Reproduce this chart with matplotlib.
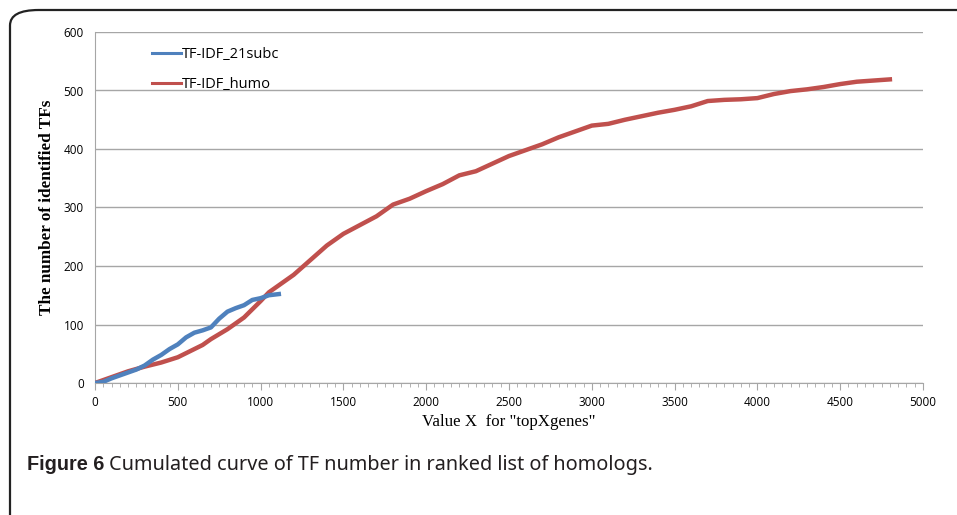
import matplotlib.pyplot as plt
from matplotlib.patches import FancyBboxPatch
from matplotlib.lines import Line2D
from matplotlib.ticker import MultipleLocator

# TF-IDF_21subc (blue)
subc_x = [0, 50, 100, 150, 200, 250, 300, 350, 400, 450, 500, 550, 600, 650, 700,
          750, 800, 850, 900, 950, 1000, 1050, 1110]
subc_y = [0, 2, 8, 13, 18, 23, 30, 40, 48, 58, 66, 78, 86, 90, 95,
          110, 122, 128, 133, 142, 145, 150, 152]

# TF-IDF_humo (red)
humo_x = [0, 100, 200, 300, 400, 500, 600, 650, 700, 800, 900, 1000, 1050, 1100,
          1200, 1300, 1400, 1500, 1600, 1700, 1800, 1900, 2000, 2100, 2200, 2300,
          2400, 2500, 2600, 2700, 2800, 2900, 3000, 3100, 3200, 3300, 3400, 3500,
          3600, 3700, 3800, 3900, 4000, 4100, 4200, 4300, 4400, 4500, 4600, 4700, 4800]
humo_y = [0, 10, 20, 28, 35, 44, 58, 65, 75, 92, 112, 140, 155, 165,
          185, 210, 235, 255, 270, 285, 305, 315, 328, 340, 355, 362,
          375, 388, 398, 408, 420, 430, 440, 443, 450, 456, 462, 467,
          473, 482, 484, 485, 487, 494, 499, 502, 506, 511, 515, 517, 519]

blue = '#4F81BD'
red = '#C0504D'

fig = plt.figure(figsize=(9.57, 5.15), dpi=100)

# rounded frame around the figure panel
frame = FancyBboxPatch((10 / 957, -0.2), 1.2, 1.2 - 10 / 515,
                       boxstyle="round,pad=0,rounding_size=0.03",
                       transform=fig.transFigure, fill=False,
                       edgecolor='#222222', linewidth=1.6, clip_on=False)
fig.patches.append(frame)

ax = fig.add_axes([95 / 957, 1 - 383 / 515, 828 / 957, 351 / 515])

ax.plot(humo_x, humo_y, color=red, linewidth=3.2, zorder=3)
ax.plot(subc_x, subc_y, color=blue, linewidth=3.2, zorder=4)

ax.set_xlim(0, 5000)
ax.set_ylim(0, 600)
ax.xaxis.set_major_locator(MultipleLocator(500))
ax.xaxis.set_minor_locator(MultipleLocator(50))
ax.yaxis.set_major_locator(MultipleLocator(100))
ax.grid(axis='y', color='#A6A6A6', linewidth=1)
ax.set_axisbelow(True)

for s in ['top', 'right']:
    ax.spines[s].set_visible(False)
for s in ['left', 'bottom']:
    ax.spines[s].set_color('#A6A6A6')

ax.tick_params(axis='x', which='major', length=5, color='#A6A6A6', labelsize=8.5, pad=4)
ax.tick_params(axis='x', which='minor', length=3, color='#A6A6A6')
ax.tick_params(axis='y', length=0, labelsize=8.5, pad=8)
for lab in ax.get_xticklabels() + ax.get_yticklabels():
    lab.set_fontfamily('Open Sans')

ax.set_ylabel('The number of identified TFs', family='Liberation Serif', fontweight='bold',
              fontsize=12.3, labelpad=6)
ax.set_xlabel('Value X  for "topXgenes"', family='Liberation Serif', fontsize=12.2, labelpad=4)

handles = [Line2D([], [], color=blue, linewidth=2.2), Line2D([], [], color=red, linewidth=2.2)]
ax.legend(handles, ['TF-IDF_21subc', 'TF-IDF_humo'], loc='upper left',
          bbox_to_anchor=(0.053, 0.9935), frameon=False, handlelength=2.0,
          handletextpad=0.05, labelspacing=1.0,
          prop={'family': 'Open Sans', 'size': 10.5})

cap_y = 1 - 465 / 515
t1 = fig.text(27 / 957, cap_y, 'Figure 6', family='Liberation Sans', fontweight='bold',
              fontsize=14.3, va='center', color='#231F20')
fig.canvas.draw()
bb = t1.get_window_extent()
fig.text((bb.x1 + 5) / 957, cap_y, 'Cumulated curve of TF number in ranked list of homologs.',
         family='Noto Sans', fontsize=14.3, va='center', color='#231F20')

fig.savefig('out.png', dpi=100)
